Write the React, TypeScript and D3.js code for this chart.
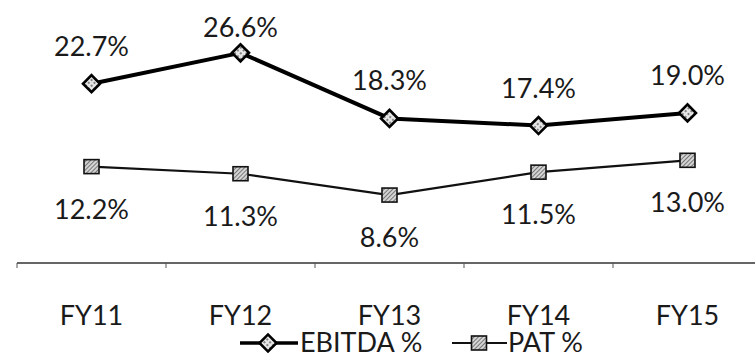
import React from "react";
import * as d3 from "d3";

const categories = ["FY11", "FY12", "FY13", "FY14", "FY15"];
const ebitda = [22.7, 26.6, 18.3, 17.4, 19.0];
const pat = [12.2, 11.3, 8.6, 11.5, 13.0];

const W = 755;
const H = 357;
const FONT = "Lato, 'Open Sans', sans-serif";
const FS = 27;

export default function App() {
  const x = d3.scaleBand<string>().domain(categories).range([17, 762]);
  const y = d3.scaleLinear().domain([0, 30]).range([263, 26]);
  const cx = (c: string) => (x(c) as number) + x.bandwidth() / 2;

  const line = d3
    .line<number>()
    .x((_, i) => cx(categories[i]))
    .y((v) => y(v));

  const fmt = (v: number) => `${v.toFixed(1)}%`;

  const diamond = (px: number, py: number, key?: string) => (
    <rect
      key={key}
      x={px - 6}
      y={py - 6}
      width={12}
      height={12}
      transform={`rotate(45 ${px} ${py})`}
      fill="url(#dotFill)"
      stroke="#000"
      strokeWidth={2.6}
    />
  );

  const square = (px: number, py: number, key?: string) => (
    <rect
      key={key}
      x={px - 7.5}
      y={py - 7}
      width={15}
      height={14}
      fill="url(#hatchFill)"
      stroke="#111"
      strokeWidth={1.6}
    />
  );

  const ticks = d3.range(categories.length + 1).map((i) => 17 + i * x.bandwidth());

  return (
    <svg
      width={W}
      height={H}
      style={{ position: "absolute", left: 0, top: 0, background: "#fff" }}
      fontFamily={FONT}
    >
      <defs>
        <pattern id="dotFill" width="4" height="4" patternUnits="userSpaceOnUse">
          <rect width="4" height="4" fill="#e6e6e6" />
          <circle cx="1" cy="1" r="0.9" fill="#555" />
        </pattern>
        <pattern
          id="hatchFill"
          width="3"
          height="3"
          patternUnits="userSpaceOnUse"
          patternTransform="rotate(45)"
        >
          <rect width="3" height="3" fill="#d4d4d4" />
          <line x1="0" y1="0" x2="0" y2="3" stroke="#444" strokeWidth="1.3" />
        </pattern>
      </defs>

      {/* category axis */}
      <line x1={17} x2={W} y1={y(0)} y2={y(0)} stroke="#333" strokeWidth={1.3} />
      {ticks.map((t, i) => (
        <line key={i} x1={t} x2={t} y1={y(0)} y2={y(0) + 5} stroke="#555" strokeWidth={1} />
      ))}
      {categories.map((c) => (
        <text key={c} x={cx(c)} y={325} textAnchor="middle" fontSize={FS} fill="#1a1a1a">
          {c}
        </text>
      ))}

      {/* EBITDA % — labels above, kept inside the top edge */}
      <path d={line(ebitda) ?? ""} fill="none" stroke="#000" strokeWidth={4} strokeLinejoin="round" />
      {ebitda.map((v, i) => diamond(cx(categories[i]), y(v), `d${i}`))}
      {ebitda.map((v, i) => (
        <text
          key={`el${i}`}
          x={cx(categories[i])}
          y={Math.max(y(v) - 28, 37)}
          textAnchor="middle"
          fontSize={FS}
          fill="#1a1a1a"
        >
          {fmt(v)}
        </text>
      ))}

      {/* PAT % — labels below */}
      <path d={line(pat) ?? ""} fill="none" stroke="#111" strokeWidth={2.2} strokeLinejoin="round" />
      {pat.map((v, i) => square(cx(categories[i]), y(v), `s${i}`))}
      {pat.map((v, i) => (
        <text
          key={`pl${i}`}
          x={cx(categories[i])}
          y={y(v) + 52}
          textAnchor="middle"
          fontSize={FS}
          fill="#1a1a1a"
        >
          {fmt(v)}
        </text>
      ))}

      {/* legend */}
      <g>
        <line x1={240} x2={298} y1={343} y2={343} stroke="#000" strokeWidth={3.5} />
        {diamond(268, 343)}
        <text x={300} y={352} fontSize={FS} fill="#1a1a1a">
          EBITDA %
        </text>
        <line x1={452} x2={507} y1={343} y2={343} stroke="#111" strokeWidth={2.2} />
        {square(479, 343)}
        <text x={508} y={352} fontSize={FS} fill="#1a1a1a">
          PAT %
        </text>
      </g>
    </svg>
  );
}
